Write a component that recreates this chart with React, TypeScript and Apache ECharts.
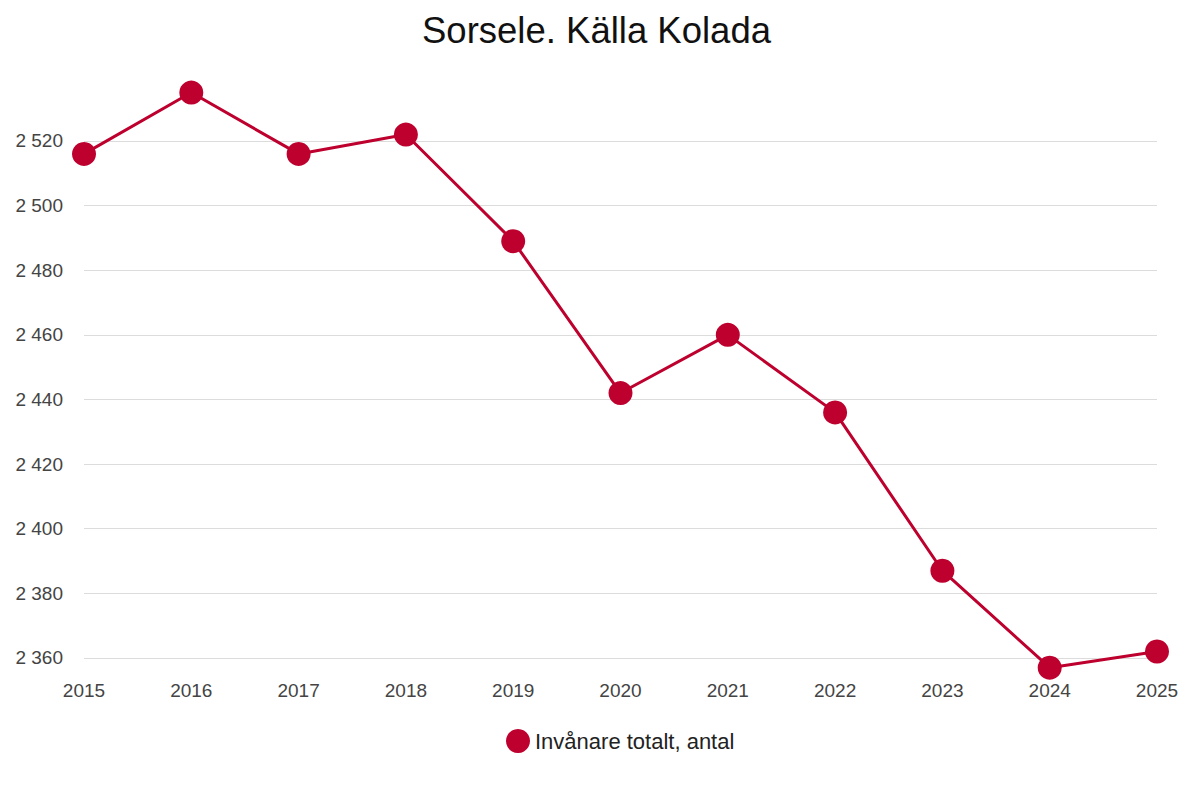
import React, { useEffect, useRef } from "react";
import * as echarts from "echarts";

const years = ["2015", "2016", "2017", "2018", "2019", "2020", "2021", "2022", "2023", "2024", "2025"];
const population = [2516, 2535, 2516, 2522, 2489, 2442, 2460, 2436, 2387, 2357, 2362];
const seriesName = "Invånare totalt, antal";
const titleText = "Sorsele. Källa Kolada";
const color = "#bd002e";

export default function App() {
  const ref = useRef<HTMLDivElement>(null);
  useEffect(() => {
    if (!ref.current) return;
    const chart = echarts.init(ref.current, null, { renderer: "svg" });
    chart.setOption({
      animation: false,
      backgroundColor: "#ffffff",
      title: {
        text: titleText,
        left: 417,
        top: 7,
        textStyle: { fontFamily: "Liberation Sans, Arial, sans-serif", fontSize: 36.5, fontWeight: "normal", color: "#111" },
      },
      legend: {
        left: 506,
        top: 729,
        padding: 0,
        itemWidth: 24,
        itemHeight: 24,
        itemGap: 8,
        icon: "circle",
        textStyle: { fontFamily: "Liberation Sans, Arial, sans-serif", fontSize: 22, color: "#222" },
        data: [seriesName],
      },
      grid: { left: 84, right: 25, top: 79.6, bottom: 120.1, containLabel: false },
      xAxis: {
        type: "category",
        data: years,
        boundaryGap: false,
        axisLine: { show: false },
        axisTick: { show: false },
        axisLabel: { fontFamily: "Liberation Sans, Arial, sans-serif", fontSize: 19, color: "#444", margin: 10 },
      },
      yAxis: {
        type: "value",
        min: 2356,
        max: 2539,
        splitNumber: 9,
        axisLine: { show: false },
        axisTick: { show: false },
        splitLine: { show: true, showMinLine: false, showMaxLine: false, lineStyle: { color: "#dcdcdc", width: 1 } },
        axisLabel: {
          fontFamily: "Liberation Sans, Arial, sans-serif",
          fontSize: 19,
          color: "#444",
          margin: 21,
          showMinLabel: false,
          showMaxLabel: false,
          formatter: (v: number) => (v % 20 === 0 ? String(v).replace(/\B(?=(\d{3})+(?!\d))/g, " ") : ""),
        },
      },
      series: [
        {
          name: seriesName,
          type: "line",
          data: population,
          symbol: "circle",
          symbolSize: 24,
          lineStyle: { color, width: 3 },
          itemStyle: { color },
        },
      ],
    });
    return () => chart.dispose();
  }, []);
  return <div ref={ref} style={{ position: "absolute", left: 0, top: 0, width: 1182, height: 791 }} />;
}
